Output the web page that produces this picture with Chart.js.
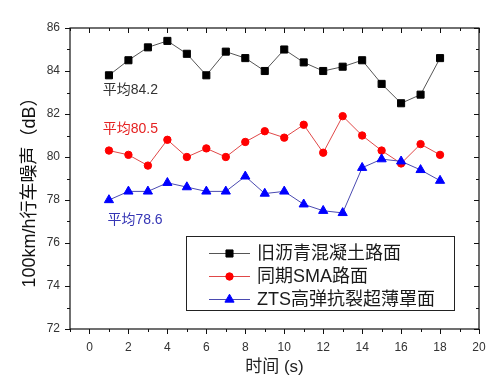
<!DOCTYPE html>
<html><head><meta charset="utf-8">
<script src="https://cdn.jsdelivr.net/npm/chart.js@4.4.1/dist/chart.umd.min.js"></script>
<style>html,body{margin:0;padding:0;background:#fff}#wrap{width:500px;height:383px}</style>
</head><body><div id="wrap"><canvas id="c" width="500" height="383"></canvas></div>
<script>
// ---- data ----
const times = [1,2,3,4,5,6,7,8,9,10,11,12,13,14,15,16,17,18];
const oldAsphalt = [83.8,84.5,85.1,85.4,84.8,83.8,84.9,84.6,84.0,85.0,84.4,84.0,84.2,84.5,83.4,82.5,82.9,84.6];
const smaSurface = [80.3,80.1,79.6,80.8,80.0,80.4,80.0,80.7,81.2,80.9,81.5,80.2,81.9,81.0,80.3,79.7,80.6,80.1];
const ztsSurface = [78.0,78.4,78.4,78.8,78.6,78.4,78.4,79.1,78.3,78.4,77.8,77.5,77.4,79.5,79.9,79.8,79.4,78.9];
const seriesNames = ['旧沥青混凝土路面','同期SMA路面','ZTS高弹抗裂超薄罩面'];
const avgTexts = ['平均84.2','平均80.5','平均78.6'];
const xTickValues = [0,2,4,6,8,10,12,14,16,18,20];
const yTickValues = [72,74,76,78,80,82,84,86];
const xTitle = '时间 (s)';
const yTitle = '100km/h行车噪声（dB）';

// ---- styling / layout ----
const FONT = "'Liberation Sans', Arial, 'Noto Sans CJK SC', sans-serif";
const avgStyle = [
  {x:0.68, y:83.1, color:'#333333'},
  {x:0.68, y:81.3, color:'#e52222'},
  {x:0.92, y:77.05, color:'#3535b5'}
];

function toPts(ys){ return times.map((t,i)=>({x:t,y:ys[i]})); }

const datasets = [
  {label:seriesNames[0], data:toPts(oldAsphalt), borderColor:'#555555', backgroundColor:'#000000',
   pointBorderColor:'#000000', pointStyle:'rect', pointRadius:5, borderWidth:1, order:3},
  {label:seriesNames[1], data:toPts(smaSurface), borderColor:'#e04848', backgroundColor:'#ff0000',
   pointBorderColor:'#ff0000', pointStyle:'circle', pointRadius:3.7, borderWidth:1, order:2},
  {label:seriesNames[2], data:toPts(ztsSurface), borderColor:'#4a4ab0', backgroundColor:'#0000ff',
   pointBorderColor:'#0000ff', pointStyle:'triangle', pointRadius:5.3, borderWidth:1, order:1}
];
datasets.forEach(d=>{ d.pointBackgroundColor=d.backgroundColor; d.pointBorderWidth=1; d.tension=0; d.fill=false; });

const framePlugin = {
  id:'frame',
  beforeDatasetsDraw(chart){
    const {ctx, chartArea:a, scales:{x,y}} = chart;
    ctx.save();
    ctx.strokeStyle = '#111';
    ctx.lineWidth = 1.2;
    ctx.strokeRect(a.left, a.top, a.right-a.left, a.bottom-a.top);
    ctx.lineWidth = 1;
    ctx.beginPath();
    for (let v = x.min; v <= x.max; v++) {
      const px = Math.round(x.getPixelForValue(v))+0.5;
      const L = (v % 2 === 0) ? 5 : 3;
      ctx.moveTo(px, a.bottom); ctx.lineTo(px, a.bottom+L);
      ctx.moveTo(px, a.top); ctx.lineTo(px, a.top+L);
    }
    for (let v = y.min; v <= y.max; v++) {
      const py = Math.round(y.getPixelForValue(v))+0.5;
      const L = (v % 2 === 0) ? 5 : 3;
      ctx.moveTo(a.left, py); ctx.lineTo(a.left-L, py);
      ctx.moveTo(a.right, py); ctx.lineTo(a.right-L, py);
    }
    ctx.stroke();
    // y title
    ctx.fillStyle = '#111';
    ctx.font = '18px ' + FONT;
    ctx.textAlign = 'center';
    ctx.textBaseline = 'middle';
    ctx.translate(30, 188);
    ctx.rotate(-Math.PI/2);
    ctx.fillText(yTitle, 0, 0);
    ctx.restore();
  },
  afterDatasetsDraw(chart){
    const {ctx, scales:{x,y}} = chart;
    ctx.save();
    // average annotations
    ctx.font = '14px ' + FONT;
    ctx.textAlign = 'left';
    ctx.textBaseline = 'middle';
    avgTexts.forEach((t,i)=>{
      const s = avgStyle[i];
      ctx.fillStyle = s.color;
      ctx.fillText(t, x.getPixelForValue(s.x), y.getPixelForValue(s.y));
    });
    // legend box
    const bx = 186, by = 236, bw = 268, bh = 74;
    ctx.fillStyle = '#fff';
    ctx.fillRect(bx, by, bw, bh);
    ctx.strokeStyle = '#222';
    ctx.lineWidth = 1;
    ctx.strokeRect(bx+0.5, by+0.5, bw, bh);
    chart.data.datasets.forEach((d,i)=>{
      const ry = 253 + i*23;
      ctx.strokeStyle = d.borderColor;
      ctx.lineWidth = 1;
      ctx.beginPath(); ctx.moveTo(209, ry+0.5); ctx.lineTo(250, ry+0.5); ctx.stroke();
      ctx.fillStyle = d.pointBackgroundColor;
      ctx.strokeStyle = d.pointBorderColor;
      Chart.helpers.drawPoint(ctx, {pointStyle:d.pointStyle, radius:d.pointRadius, rotation:0, borderWidth:1}, 229.5, ry+0.5);
      ctx.fillStyle = '#1a1a1a';
      ctx.font = '18px ' + FONT;
      ctx.textAlign = 'left';
      ctx.textBaseline = 'middle';
      ctx.fillText(d.label, 257, ry+1);
    });
    ctx.restore();
  }
};

new Chart(document.getElementById('c'), {
  type:'line',
  data:{datasets},
  options:{
    responsive:false,
    animation:false,
    devicePixelRatio:1,
    layout:{padding:{left:0,right:21,top:28,bottom:0}},
    plugins:{legend:{display:false}, tooltip:{enabled:false}},
    scales:{
      x:{
        type:'linear', min:-1, max:20,
        afterBuildTicks:(s)=>{ s.ticks = xTickValues.map(v=>({value:v})); },
        afterFit:(s)=>{ s.height = 54; },
        grid:{display:false, drawTicks:false},
        border:{display:false},
        ticks:{padding:11, color:'#333', font:{family:FONT, size:12}, maxRotation:0, autoSkip:false},
        title:{display:true, text:xTitle, color:'#222', font:{family:FONT, size:17, lineHeight:1.2}, padding:{top:0,bottom:5}}
      },
      y:{
        type:'linear', min:72, max:86,
        afterBuildTicks:(s)=>{ s.ticks = yTickValues.map(v=>({value:v})); },
        afterFit:(s)=>{ s.width = 70; },
        grid:{display:false, drawTicks:false},
        border:{display:false},
        ticks:{padding:10, color:'#333', font:{family:FONT, size:12}, autoSkip:false},
        title:{display:false}
      }
    }
  },
  plugins:[framePlugin]
});
</script>
</body></html>
